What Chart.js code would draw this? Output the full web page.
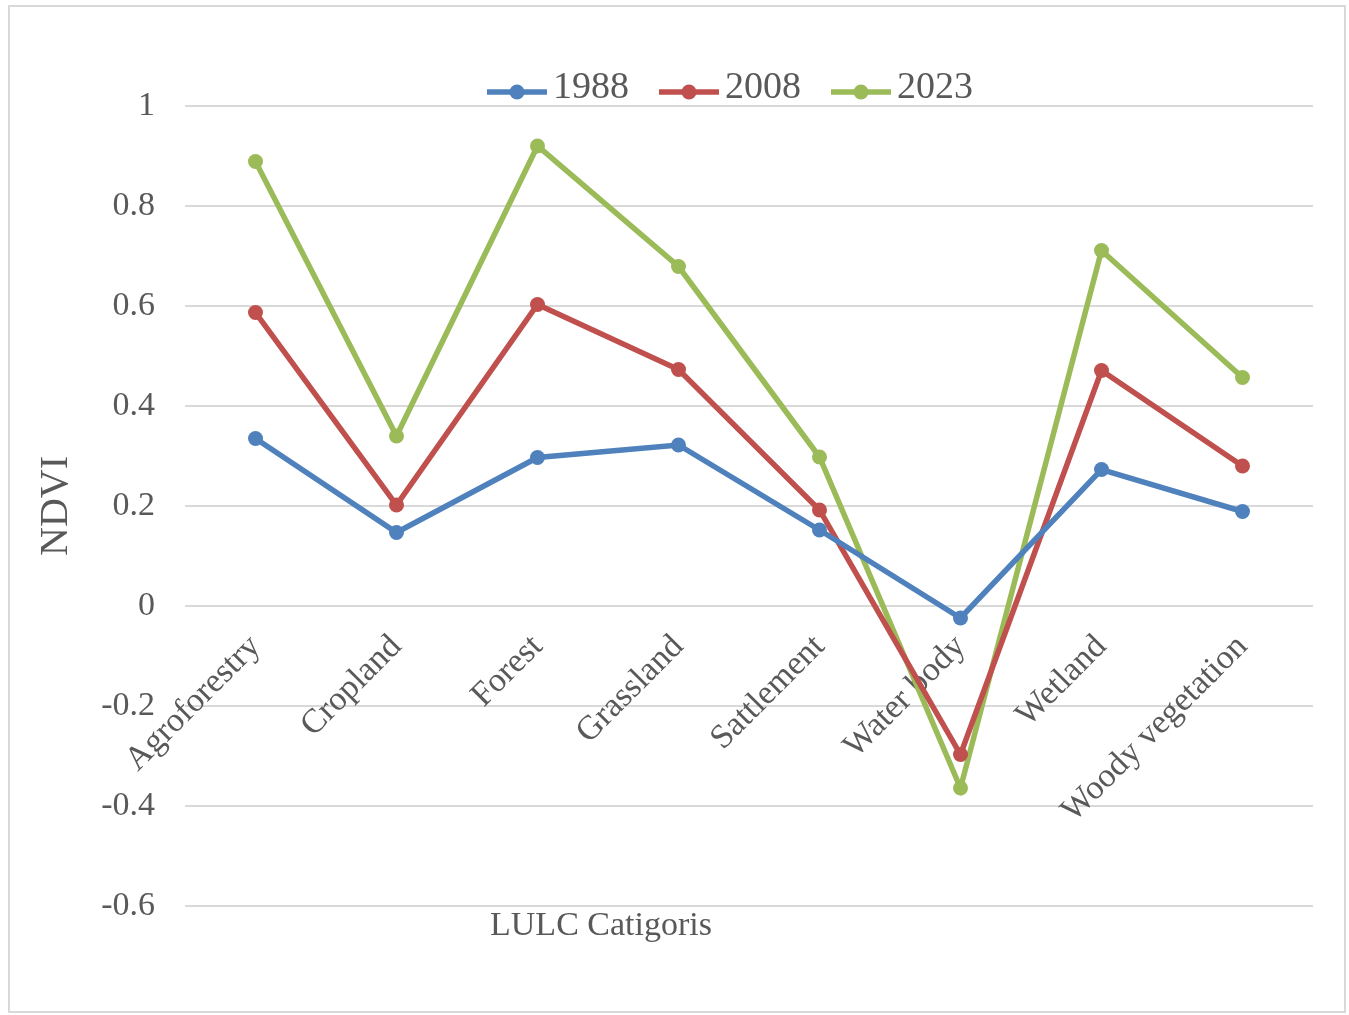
<!DOCTYPE html>
<html>
<head>
<meta charset="utf-8">
<script src="https://cdn.jsdelivr.net/npm/chart.js@4.4.1/dist/chart.umd.min.js"></script>
<style>
  body { margin: 0; background: #fff; }
  #marc { position: absolute; left: 8px; top: 5px; width: 1334px; height: 1004px; border: 2px solid #d9d9d9; }
</style>
</head>
<body>
<div id="marc"><canvas id="grafic" width="1334" height="1004"></canvas></div>
<script>
const categories = ['Agroforestry', 'Cropland', 'Forest', 'Grassland', 'Sattlement', 'Water body', 'Wetland', 'Woody vegetation'];
const ndvi1988 = [0.335, 0.147, 0.297, 0.322, 0.152, -0.024, 0.273, 0.189];
const ndvi2008 = [0.587, 0.202, 0.603, 0.473, 0.192, -0.297, 0.471, 0.280];
const ndvi2023 = [0.889, 0.340, 0.920, 0.679, 0.298, -0.364, 0.711, 0.457];
const anys = ['1988', '2008', '2023'];
const colors = ['#4F81BD', '#C0504D', '#9BBB59'];
const yMin = -0.6, yMax = 1, yStep = 0.2;

const serif = '"Liberation Serif", "Times New Roman", serif';
const gris = '#595959';

// petit dibuix de línia amb punt per a la llegenda
function marcador(color) {
    const c = document.createElement('canvas');
    c.width = 73;
    c.height = 24;
    const ctx = c.getContext('2d');
    ctx.strokeStyle = color;
    ctx.lineWidth = 5.5;
    ctx.beginPath();
    ctx.moveTo(13, 16);
    ctx.lineTo(73, 16);
    ctx.stroke();
    ctx.fillStyle = color;
    ctx.beginPath();
    ctx.arc(43, 16, 7.5, 0, Math.PI * 2);
    ctx.fill();
    return c;
}
const marcadors = colors.map(marcador);

// alçada fixa de la llegenda
const llegendaFixa = {
    id: 'llegendaFixa',
    beforeInit(chart) {
        const fitOriginal = chart.legend.fit;
        chart.legend.fit = function () {
            fitOriginal.bind(chart.legend)();
            this.height = 67;
        };
    },
    afterLayout(chart) {
        const lg = chart.legend;
        const desp = 720 - (lg.left + lg.right) / 2;
        lg.left += desp;
        lg.right += desp;
    }
};

// títol de l'eix de categories
const titolEix = {
    id: 'titolEix',
    afterDraw(chart) {
        const {ctx, chartArea} = chart;
        ctx.save();
        ctx.font = '34px ' + serif;
        ctx.fillStyle = gris;
        ctx.textAlign = 'center';
        ctx.textBaseline = 'middle';
        ctx.fillText('LULC Catigoris', chartArea.left + 416, chartArea.bottom + 20);
        ctx.restore();
    }
};

const series = [ndvi1988, ndvi2008, ndvi2023];

new Chart(document.getElementById('grafic'), {
    type: 'line',
    data: {
        labels: categories,
        datasets: series.map((dades, i) => ({
            label: anys[i],
            data: dades,
            borderColor: colors[i],
            backgroundColor: colors[i],
            borderWidth: 5.5,
            pointRadius: 7.5,
            pointBorderWidth: 0,
            pointBackgroundColor: colors[i],
            tension: 0
        }))
    },
    options: {
        responsive: false,
        animation: false,
        layout: { padding: { top: 32, right: 31, bottom: 105, left: 0 } },
        plugins: {
            tooltip: { enabled: false },
            legend: {
                position: 'top',
                labels: {
                    usePointStyle: true,
                    pointStyleWidth: 47,
                    padding: 30,
                    color: gris,
                    font: { family: serif, size: 38 },
                    generateLabels(chart) {
                        const items = Chart.defaults.plugins.legend.labels.generateLabels(chart);
                        items.forEach((it, i) => { it.pointStyle = marcadors[i]; });
                        return items;
                    }
                }
            }
        },
        scales: {
            x: {
                position: { y: 0 },
                offset: true,
                grid: { display: false },
                border: { display: false },
                ticks: {
                    minRotation: 45,
                    maxRotation: 45,
                    padding: 13,
                    color: gris,
                    font: { family: serif, size: 34 }
                }
            },
            y: {
                min: yMin,
                max: yMax,
                afterFit(scale) { scale.width = 175; },
                grid: { color: '#d9d9d9', lineWidth: 2, drawTicks: false },
                border: { display: false },
                ticks: {
                    stepSize: yStep,
                    padding: 30,
                    color: gris,
                    font: { family: serif, size: 34 },
                    callback: v => String(Number(v.toFixed(1)))
                },
                title: {
                    display: true,
                    text: 'NDVI',
                    color: gris,
                    padding: { top: 22, bottom: 0 },
                    font: { family: serif, size: 40 }
                }
            }
        }
    },
    plugins: [llegendaFixa, titolEix]
});
</script>
</body>
</html>
